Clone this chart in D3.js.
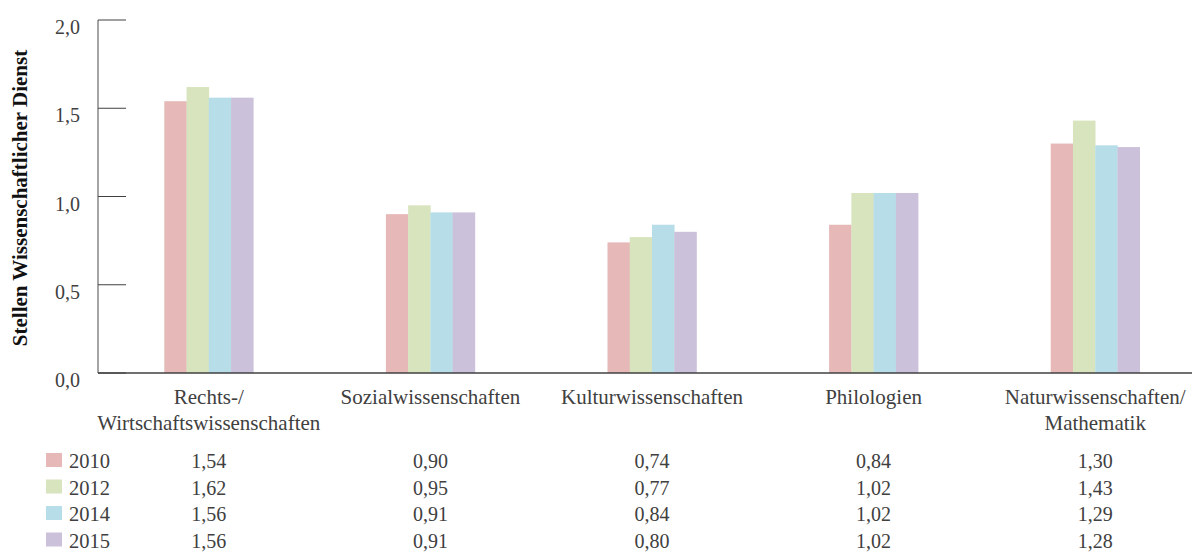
<!DOCTYPE html>
<html>
<head>
<meta charset="utf-8">
<script src="https://cdn.jsdelivr.net/npm/d3@7"></script>
<style>
  body { margin: 0; background: #fff; }
  text { font-family: "Liberation Serif", "DejaVu Serif", serif; fill: #404040; }
</style>
</head>
<body>
<svg id="chart" width="1192" height="552"></svg>
<script>
// data
const categories = [
    ["Rechts-/", "Wirtschaftswissenschaften"],
    ["Sozialwissenschaften"],
    ["Kulturwissenschaften"],
    ["Philologien"],
    ["Naturwissenschaften/", "Mathematik"]
];
const years = ["2010", "2012", "2014", "2015"];
const values2010 = [1.54, 0.90, 0.74, 0.84, 1.30];
const values2012 = [1.62, 0.95, 0.77, 1.02, 1.43];
const values2014 = [1.56, 0.91, 0.84, 1.02, 1.29];
const values2015 = [1.56, 0.91, 0.80, 1.02, 1.28];
const colours = ["#e6b9b8", "#d7e4bd", "#b7dee8", "#ccc1da"];
const yTicks = [0, 0.5, 1.0, 1.5, 2.0];

const series = [values2010, values2012, values2014, values2015];
const fmt = v => d3.format(".2f")(v).replace(".", ",");
const fmtTick = v => d3.format(".1f")(v).replace(".", ",");

const svg = d3.select("#chart");

const x = d3.scaleBand()
    .domain(d3.range(categories.length))
    .range([98, 1206]);

const inner = d3.scaleBand()
    .domain(d3.range(years.length))
    .range([0, 89]);

const y = d3.scaleLinear()
    .domain([0, 2])
    .range([373, 20]);

// bars
series.forEach(function(vals, s) {
    svg.append("g").selectAll("rect")
        .data(vals)
        .enter().append("rect")
        .attr("x", (d, i) => x(i) + x.bandwidth() / 2 - 44.5 + inner(s))
        .attr("width", inner.bandwidth() + 0.3)
        .attr("y", d => y(d))
        .attr("height", d => y(0) - y(d))
        .attr("fill", colours[s]);
});

// y axis
const yAxis = svg.append("g");
yAxis.append("line")
    .attr("x1", 98).attr("x2", 98)
    .attr("y1", y(2)).attr("y2", y(0))
    .attr("stroke", "#868686").attr("stroke-width", 1.5);
yAxis.selectAll(".tick")
    .data(yTicks)
    .enter().append("line")
    .attr("x1", 98).attr("x2", 126)
    .attr("y1", d => y(d)).attr("y2", d => y(d))
    .attr("stroke", "#404040").attr("stroke-width", 1);
yAxis.selectAll(".ticklabel")
    .data(yTicks)
    .enter().append("text")
    .attr("x", 80)
    .attr("y", d => y(d) + 14)
    .attr("text-anchor", "end")
    .style("font-size", "20px")
    .text(fmtTick);

// x axis line
svg.append("line")
    .attr("x1", 98).attr("x2", 1192)
    .attr("y1", y(0)).attr("y2", y(0))
    .attr("stroke", "#404040").attr("stroke-width", 1.5);

// y title
svg.append("text")
    .attr("transform", "translate(27,198) rotate(-90)")
    .attr("text-anchor", "middle")
    .style("font-size", "21px")
    .style("font-weight", "bold")
    .style("fill", "#111")
    .text("Stellen Wissenschaftlicher Dienst");

// category labels
categories.forEach(function(lines, i) {
    lines.forEach(function(line, j) {
        svg.append("text")
            .attr("x", x(i) + x.bandwidth() / 2)
            .attr("y", 404 + j * 26)
            .attr("text-anchor", "middle")
            .style("font-size", "21px")
            .text(line);
    });
});

// data table with legend
years.forEach(function(year, s) {
    const by = 468 + s * 26.5;
    svg.append("rect")
        .attr("x", 46).attr("y", by - 15)
        .attr("width", 16).attr("height", 14)
        .attr("fill", colours[s]);
    svg.append("text")
        .attr("x", 69).attr("y", by)
        .style("font-size", "20.5px")
        .text(year);
    svg.append("g").selectAll("text")
        .data(series[s])
        .enter().append("text")
        .attr("x", (d, i) => x(i) + x.bandwidth() / 2)
        .attr("y", by)
        .attr("text-anchor", "middle")
        .style("font-size", "20px")
        .text(fmt);
});
</script>
</body>
</html>
